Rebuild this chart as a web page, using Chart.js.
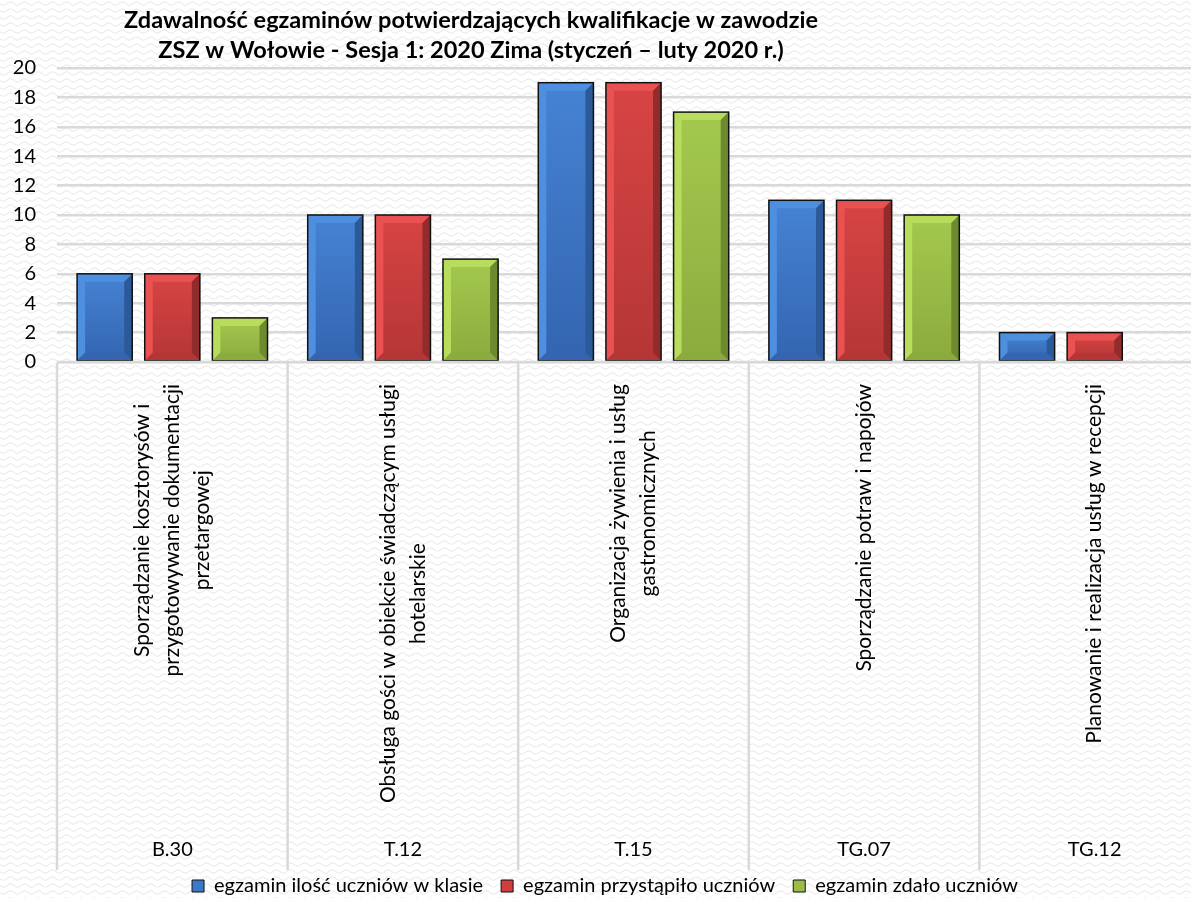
<!DOCTYPE html>
<html>
<head>
<meta charset="utf-8">
<script src="https://cdn.jsdelivr.net/npm/chart.js@4/dist/chart.umd.min.js"></script>
<style>
  body { margin: 0; overflow: hidden; background: #fff; }
  .wrap { width: 1210px; height: 906px; }
</style>
</head>
<body>
<div class="wrap"><canvas id="chart"></canvas></div>
<script>
//=========== data =======================/
const codes = ["B.30", "T.12", "T.15", "TG.07", "TG.12"];
const names = [
  ["Sporządzanie kosztorysów i", "przygotowywanie dokumentacji", "przetargowej"],
  ["Obsługa gości w obiekcie świadczącym usługi", "hotelarskie"],
  ["Organizacja żywienia i usług", "gastronomicznych"],
  ["Sporządzanie potraw i napojów"],
  ["Planowanie i realizacja usług w recepcji"]
];
const classCount = [6, 10, 19, 11, 2];
const tookExam = [6, 10, 19, 11, 2];
const passedExam = [3, 7, 17, 10, 0];
const yTicks = [0, 2, 4, 6, 8, 10, 12, 14, 16, 18, 20];

const titleLines = [
  "Zdawalność egzaminów potwierdzających kwalifikacje w zawodzie",
  "ZSZ w Wołowie - Sesja 1: 2020 Zima (styczeń – luty 2020 r.)"
];

const FONT = "Lato, 'Open Sans', sans-serif";

// colours for the bevelled bars: light edge, face top, face bottom, dark edge
const palette = [
  { main: "#3c78c8", light: "#4f8fe0", top: "#4683d4", bottom: "#3365b0", dark: "#2c5a98" },
  { main: "#d03f3f", light: "#ea5252", top: "#d84444", bottom: "#b53636", dark: "#922b2b" },
  { main: "#9bbd48", light: "#b8dd5c", top: "#a4c94e", bottom: "#8bab3e", dark: "#6e8a2f" }
];

//=========== background wave texture =======================/
function wavePattern(ctx) {
  const c = document.createElement("canvas");
  c.width = 14; c.height = 7;
  const p = c.getContext("2d");
  p.fillStyle = "#ffffff";
  p.fillRect(0, 0, 14, 7);
  p.strokeStyle = "#ececec";
  p.lineWidth = 1.2;
  p.beginPath();
  for (let i = 0; i <= 14; i++) {
    const yy = 3.5 + 1.6 * Math.sin(i / 14 * Math.PI * 2);
    if (i === 0) p.moveTo(i, yy); else p.lineTo(i, yy);
  }
  p.stroke();
  return ctx.createPattern(c, "repeat");
}

const backgroundPlugin = {
  id: "bg",
  beforeDraw(chart) {
    const ctx = chart.ctx;
    ctx.save();
    ctx.fillStyle = wavePattern(ctx);
    ctx.fillRect(0, 0, chart.width, chart.height);
    ctx.restore();
  }
};

//=========== title (sits left of centre in the original) =======================/
const titlePlugin = {
  id: "title2",
  afterDraw(chart) {
    const ctx = chart.ctx;
    ctx.save();
    ctx.font = "bold 23.5px " + FONT;
    ctx.fillStyle = "#000";
    ctx.textAlign = "center";
    ctx.textBaseline = "middle";
    ctx.fillText(titleLines[0], 471, 20);
    ctx.fillText(titleLines[1], 471, 50);
    ctx.restore();
  }
};

//=========== bevel on every bar =======================/
const bevelPlugin = {
  id: "bevel",
  afterDatasetsDraw(chart) {
    const ctx = chart.ctx;
    chart.data.datasets.forEach((ds, di) => {
      const meta = chart.getDatasetMeta(di);
      const col = palette[di];
      meta.data.forEach(bar => {
        const p = bar.getProps(["x", "y", "base", "width"], true);
        const L = p.x - p.width / 2, R = p.x + p.width / 2;
        const T = Math.min(p.y, p.base), B = Math.max(p.y, p.base);
        if (B - T < 1) return;
        const b = Math.min(8, (B - T) / 3);
        ctx.save();
        // face
        const g = ctx.createLinearGradient(0, T, 0, B);
        g.addColorStop(0, col.top);
        g.addColorStop(1, col.bottom);
        ctx.fillStyle = g;
        ctx.fillRect(L, T, R - L, B - T);
        const poly = (pts, c) => {
          ctx.beginPath();
          ctx.moveTo(pts[0][0], pts[0][1]);
          pts.slice(1).forEach(q => ctx.lineTo(q[0], q[1]));
          ctx.closePath();
          ctx.fillStyle = c;
          ctx.fill();
        };
        poly([[L, T], [R, T], [R - b, T + b], [L + b, T + b]], col.light);
        poly([[L, T], [L + b, T + b], [L + b, B - b], [L, B]], col.light);
        poly([[R, T], [R, B], [R - b, B - b], [R - b, T + b]], col.dark);
        poly([[L, B], [L + b, B - b], [R - b, B - b], [R, B]], col.bottom);
        ctx.strokeStyle = "#111";
        ctx.lineWidth = 1.5;
        ctx.strokeRect(L, T, R - L, B - T);
        ctx.restore();
      });
    });
  }
};

//=========== category axis: rotated names, codes, dividers =======================/
const xLabelPlugin = {
  id: "xLabels",
  afterDraw(chart) {
    const { ctx, chartArea } = chart;
    const x = chart.scales.x;
    const step = (x.right - x.left) / codes.length;
    const top = chartArea.bottom;
    ctx.save();
    ctx.strokeStyle = "#d9d9d9";
    ctx.lineWidth = 2.5;
    ctx.beginPath();
    ctx.moveTo(x.left, top);
    ctx.lineTo(x.right, top);
    for (let i = 0; i <= codes.length; i++) {
      const px = x.left + i * step;
      ctx.moveTo(px, top + 1);
      ctx.lineTo(px, top + 508);
    }
    ctx.stroke();

    ctx.fillStyle = "#000";
    ctx.font = "20px " + FONT;
    ctx.textAlign = "center";
    ctx.textBaseline = "middle";
    codes.forEach((c, i) => {
      ctx.fillText(c, x.getPixelForTick(i), top + 488);
    });

    ctx.font = "21px " + FONT;
    const lh = 30;
    names.forEach((lines, i) => {
      const cx = x.getPixelForTick(i);
      const longest = Math.max(...lines.map(s => ctx.measureText(s).width));
      const cy = top + 22 + longest / 2;
      lines.forEach((s, k) => {
        const lx = cx + (k - (lines.length - 1) / 2) * lh;
        ctx.save();
        ctx.translate(lx, cy);
        ctx.rotate(-Math.PI / 2);
        ctx.fillText(s, 0, 0);
        ctx.restore();
      });
    });
    ctx.restore();
  }
};

//=========== bar chart =======================/
const chart = document.getElementById("chart");

new Chart(chart, {
  type: "bar",
  data: {
    labels: codes,
    datasets: [
      { label: "egzamin ilość uczniów w klasie", data: classCount, backgroundColor: palette[0].main },
      { label: "egzamin przystąpiło uczniów", data: tookExam, backgroundColor: palette[1].main },
      { label: "egzamin zdało uczniów", data: passedExam, backgroundColor: palette[2].main }
    ].map(d => Object.assign(d, { barPercentage: 0.815, categoryPercentage: 0.88, borderWidth: 0 }))
  },
  options: {
    responsive: true,
    maintainAspectRatio: false,
    animation: false,
    layout: { padding: { top: 68, left: 0, right: 0, bottom: 0 } },
    plugins: {
      tooltip: { enabled: false },
      legend: {
        position: "bottom",
        labels: {
          font: { family: FONT, size: 20 },
          color: "#000",
          boxWidth: 12,
          boxHeight: 12,
          padding: 18,
          generateLabels: ch => ch.data.datasets.map((d, i) => ({
            text: d.label,
            fillStyle: palette[i].main,
            strokeStyle: "#111",
            lineWidth: 1,
            datasetIndex: i,
            fontColor: "#000"
          }))
        }
      }
    },
    scales: {
      x: {
        ticks: { display: false },
        grid: { display: false },
        border: { display: false },
        afterFit: s => { s.height = 496; }
      },
      y: {
        min: 0,
        max: 20,
        afterBuildTicks: s => { s.ticks = yTicks.map(v => ({ value: v })); },
        afterFit: s => { s.width = 57; },
        ticks: {
          font: { family: FONT, size: 20 },
          color: "#000",
          padding: 21
        },
        grid: { color: "#d9d9d9", lineWidth: 2.5, drawTicks: false },
        border: { display: false }
      }
    }
  },
  plugins: [backgroundPlugin, titlePlugin, bevelPlugin, xLabelPlugin]
});
</script>
</body>
</html>
